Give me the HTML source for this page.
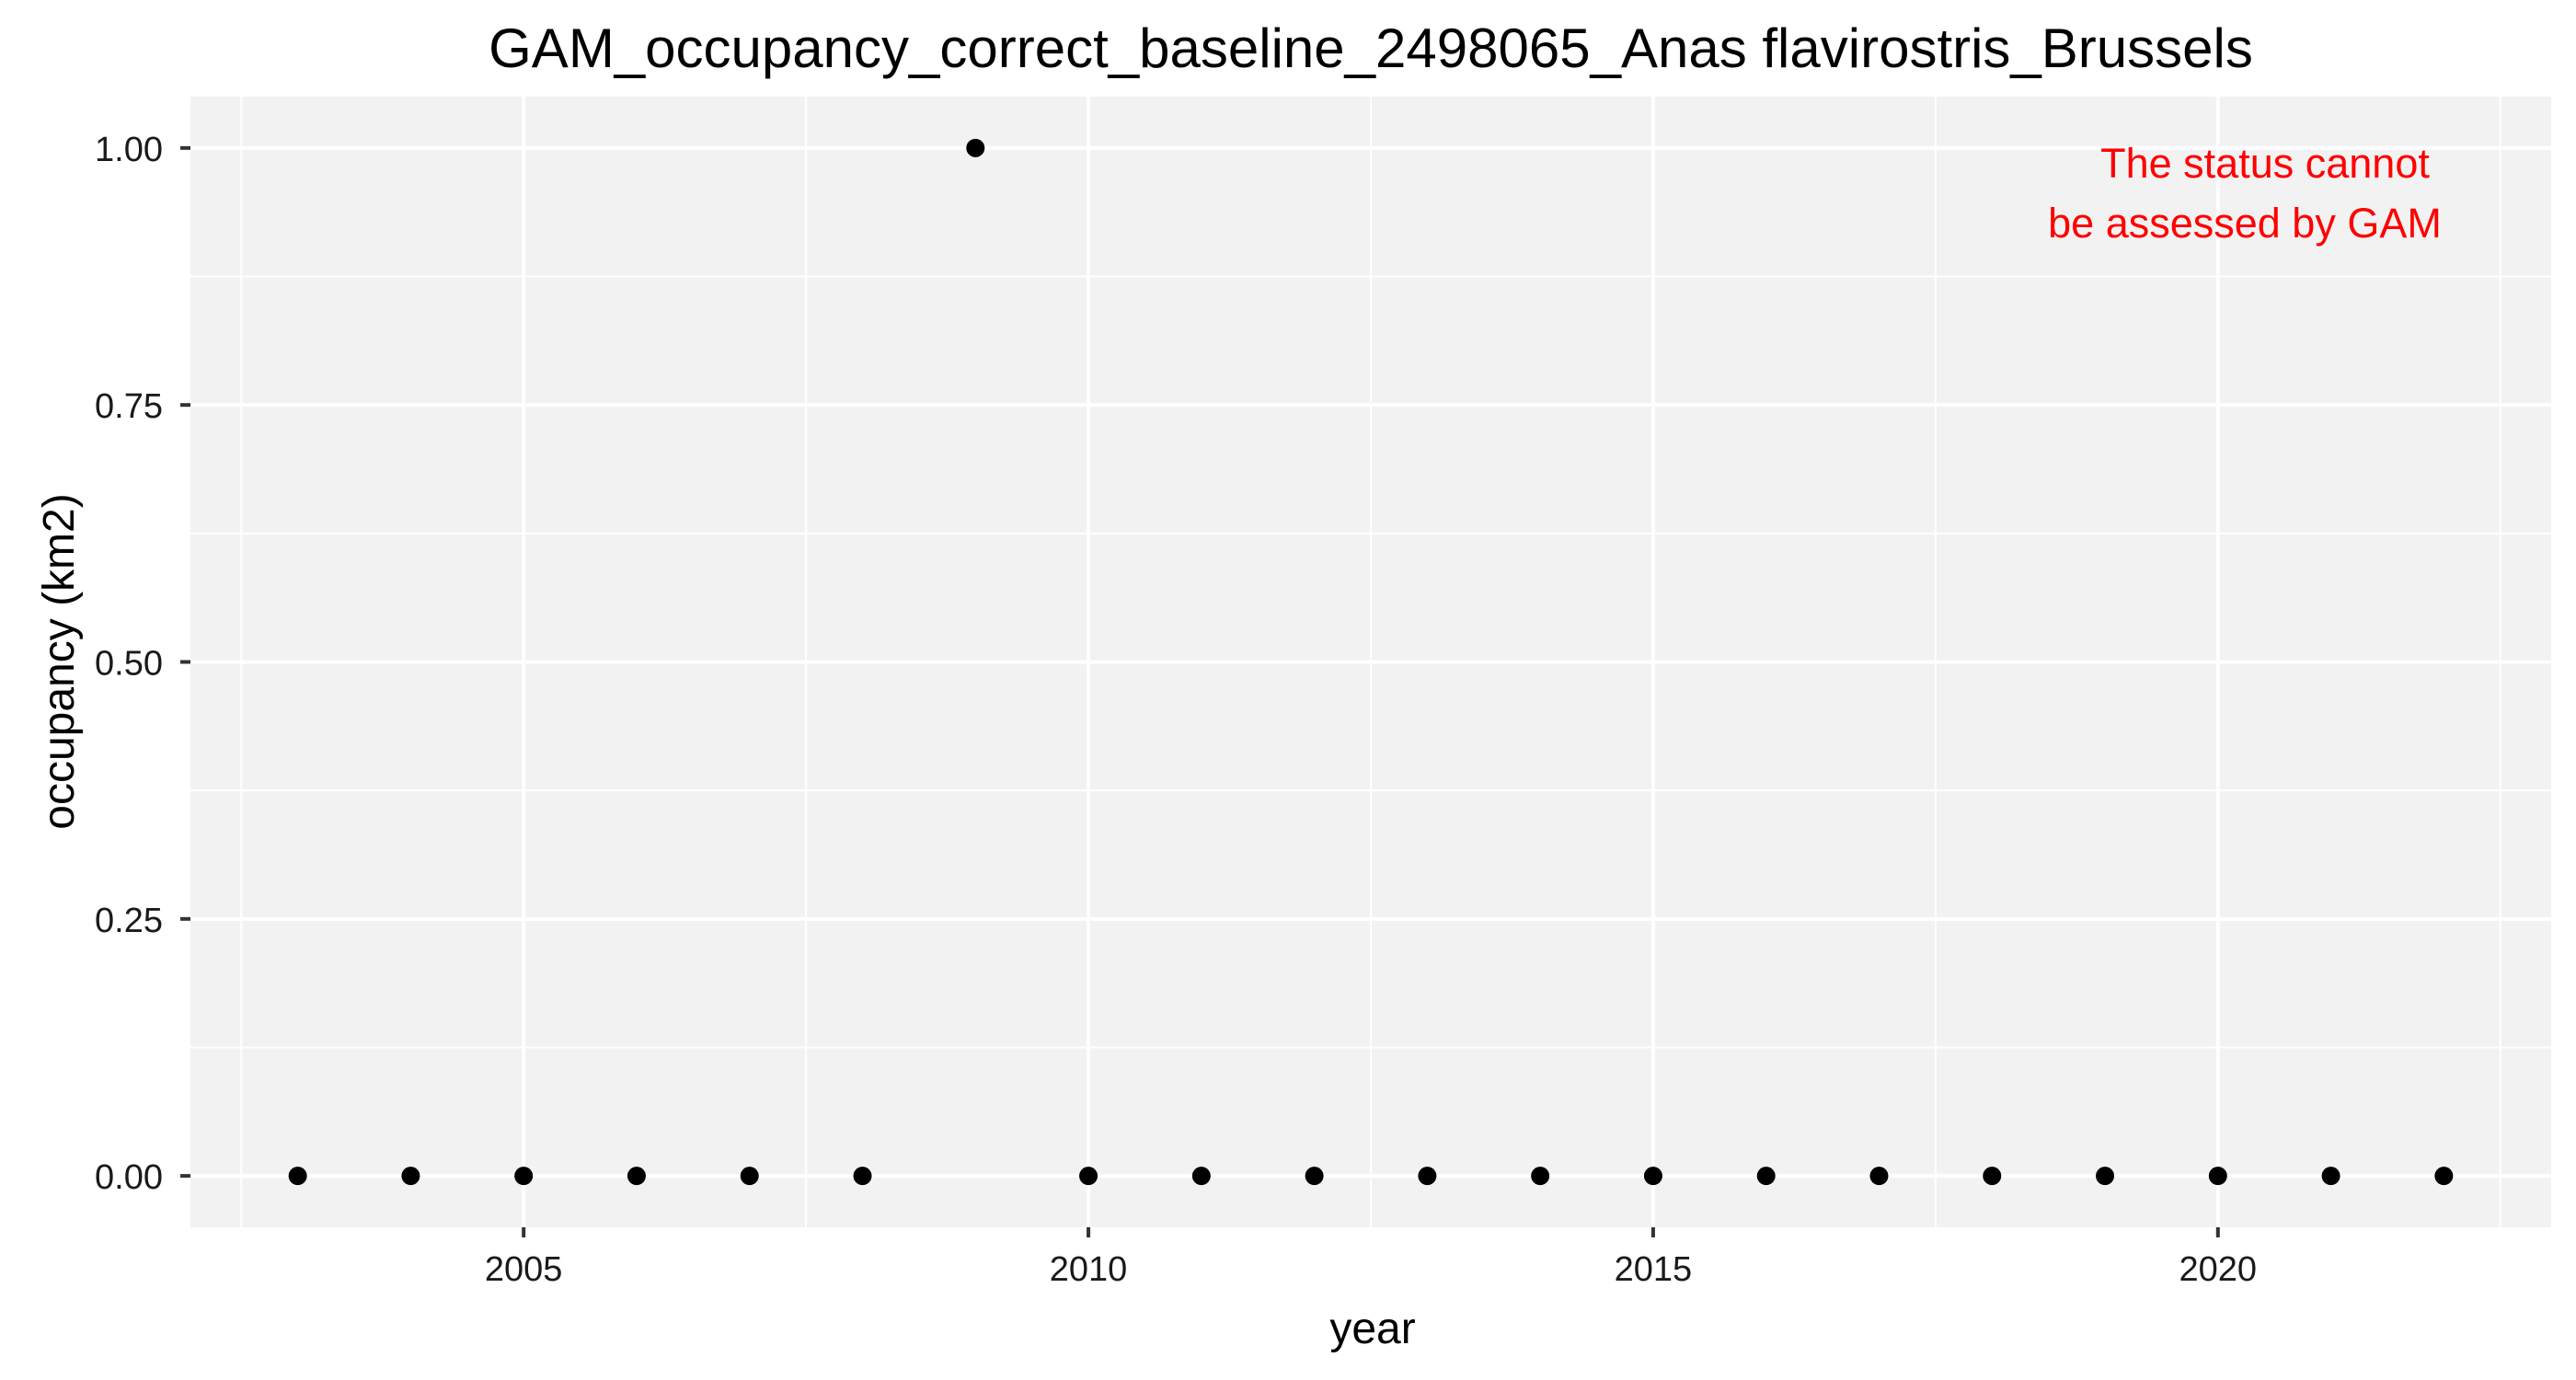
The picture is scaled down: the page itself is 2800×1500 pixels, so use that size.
<!DOCTYPE html>
<html><head><meta charset="utf-8"><style>
html,body{margin:0;padding:0;background:#fff;}
svg{display:block;font-family:"Liberation Sans",Arial,sans-serif;}
</style></head><body>
<svg id="chart" width="2800" height="1500" viewBox="0 0 2800 1500" xmlns="http://www.w3.org/2000/svg">
<rect width="2800" height="1500" fill="#fff"/>
<text x="1490" y="73" font-size="60" text-anchor="middle" fill="#000">GAM_occupancy_correct_baseline_2498065_Anas flavirostris_Brussels</text>
<rect x="207" y="105" width="2566" height="1229" fill="#f2f2f2"/>
<g id="grid"></g>
<g id="axes"></g>
<g id="points"></g>
<text x="2462" y="193" font-size="45" fill="#ff0000" text-anchor="middle">The status cannot</text>
<text x="2440" y="258" font-size="45" fill="#ff0000" text-anchor="middle">be assessed by GAM</text>
<text x="1492" y="1460" font-size="48" text-anchor="middle" fill="#000">year</text>
<text x="0" y="0" font-size="48" text-anchor="middle" fill="#000" transform="translate(80,719) rotate(-90)">occupancy (km2)</text>
</svg>
<script>
const years = [2003,2004,2005,2006,2007,2008,2009,2010,2011,2012,2013,2014,2015,2016,2017,2018,2019,2020,2021,2022];
const occupancy = [0,0,0,0,0,0,1,0,0,0,0,0,0,0,0,0,0,0,0,0];
const xTicks = [2005,2010,2015,2020];
const xMinor = [2002.5,2007.5,2012.5,2017.5,2022.5];
const yTicks = [0,0.25,0.5,0.75,1];
const yTickLabels = ["0.00","0.25","0.50","0.75","1.00"];
const yMinor = [0.125,0.375,0.625,0.875];

const NS = "http://www.w3.org/2000/svg";
const PL = 207, PR = 2773, PT = 105, PB = 1334;
const xMin = 2002.05, xMax = 2022.95, yMin = -0.05, yMax = 1.05;
function xs(v){ return PL + (v - xMin) / (xMax - xMin) * (PR - PL); }
function ys(v){ return PB - (v - yMin) / (yMax - yMin) * (PB - PT); }
function mk(tag, attrs, parent){
  const e = document.createElementNS(NS, tag);
  for (const k in attrs) e.setAttribute(k, attrs[k]);
  parent.appendChild(e);
  return e;
}
const grid = document.getElementById('grid');
const axes = document.getElementById('axes');
const pts = document.getElementById('points');

xMinor.forEach(v => {
  const l = mk('line', {x1: xs(v), x2: xs(v), y1: PT, y2: PB, stroke: '#fff', 'stroke-width': 2}, grid);
  
  
});
yMinor.forEach(v => {
  const l = mk('line', {x1: PL, x2: PR, y1: ys(v), y2: ys(v), stroke: '#fff', 'stroke-width': 2}, grid);
  
  
});
xTicks.forEach(v => {
  const l = mk('line', {x1: xs(v), x2: xs(v), y1: PT, y2: PB, stroke: '#fff', 'stroke-width': 4}, grid);
  
  
  const t = mk('line', {x1: xs(v), x2: xs(v), y1: PB, y2: PB + 11, stroke: '#333', 'stroke-width': 4}, axes);
  
  
  const tx = mk('text', {x: xs(v), y: PB + 58, 'font-size': 38, 'text-anchor': 'middle', fill: '#1a1a1a'}, axes);
  tx.textContent = String(v);
  
  
});
yTicks.forEach((v, i) => {
  const l = mk('line', {x1: PL, x2: PR, y1: ys(v), y2: ys(v), stroke: '#fff', 'stroke-width': 4}, grid);
  
  
  const t = mk('line', {x1: PL - 11, x2: PL, y1: ys(v), y2: ys(v), stroke: '#333', 'stroke-width': 4}, axes);
  
  
  const tx = mk('text', {x: PL - 30, y: ys(v) + 14, 'font-size': 38, 'text-anchor': 'end', fill: '#1a1a1a'}, axes);
  tx.textContent = yTickLabels[i];
  
  
});
years.forEach((yr, i) => {
  const c = mk('circle', {cx: xs(yr), cy: ys(occupancy[i]), r: 10, fill: '#000'}, pts);
  
  
});
</script>
</body></html>
